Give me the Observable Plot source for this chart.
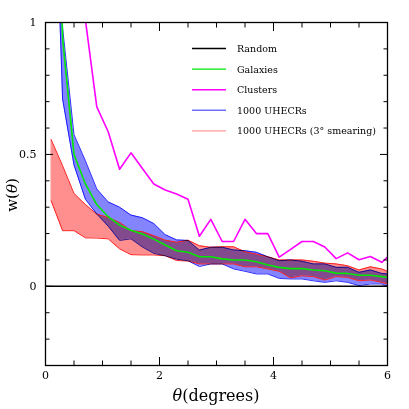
<!DOCTYPE html>
<html><head><meta charset="utf-8">
<script src="https://cdn.jsdelivr.net/npm/d3@7"></script>
<script src="https://cdn.jsdelivr.net/npm/@observablehq/plot@0.6"></script>
<style>html,body{margin:0;padding:0;background:#fff}svg{display:block}</style>
</head><body><div id="chart"></div>
<script>
// angular separation (degrees)
const theta = [0.1,0.3,0.5,0.7,0.9,1.1,1.3,1.5,1.7,1.9,2.1,2.3,2.5,2.7,2.9,3.1,3.3,3.5,3.7,3.9,4.1,4.3,4.5,4.7,4.9,5.1,5.3,5.5,5.7,5.9,6.0];
const clusters = [5.0,3.5,2.0,1.01,0.68,0.586,0.444,0.506,0.447,0.388,0.365,0.35,0.33,0.19,0.254,0.17,0.17,0.254,0.2,0.2,0.111,0.14,0.17,0.17,0.149,0.105,0.127,0.101,0.113,0.091,0.111];
const galaxies = [2.5,0.94,0.50,0.388,0.31,0.264,0.232,0.213,0.198,0.179,0.157,0.135,0.129,0.112,0.112,0.104,0.100,0.100,0.093,0.081,0.072,0.067,0.067,0.062,0.059,0.050,0.049,0.042,0.042,0.037,0.034];
const uhecrHigh = [3.0,0.98,0.575,0.476,0.369,0.32,0.30,0.27,0.26,0.238,0.196,0.176,0.174,0.137,0.148,0.148,0.138,0.135,0.129,0.112,0.097,0.100,0.095,0.085,0.085,0.072,0.072,0.053,0.062,0.049,0.047];
const uhecrLow = [2.0,0.71,0.46,0.33,0.274,0.228,0.174,0.18,0.149,0.125,0.116,0.103,0.097,0.075,0.085,0.085,0.066,0.057,0.047,0.047,0.03,0.028,0.028,0.021,0.015,0.021,0.015,0.003,0.009,0.009,0.0];
const smearHigh = [0.556,0.457,0.352,0.31,0.274,0.261,0.242,0.211,0.207,0.192,0.175,0.167,0.175,0.154,0.148,0.15,0.15,0.131,0.122,0.112,0.10,0.10,0.10,0.095,0.088,0.085,0.078,0.062,0.074,0.066,0.057];
const smearLow = [0.324,0.211,0.211,0.184,0.183,0.18,0.142,0.12,0.119,0.119,0.116,0.098,0.096,0.085,0.085,0.085,0.085,0.074,0.074,0.066,0.057,0.032,0.04,0.037,0.024,0.037,0.034,0.021,0.024,0.015,0.009];
const randomLevel = [0];

const legendLabels = ["Random","Galaxies","Clusters","1000 UHECRs","1000 UHECRs (3\u00b0 smearing)"];
const legendColors = ["#000000","#00e800","#ff00ff","#6f6fff","#ff9a9a"];

const xMajor = [0,2,4,6];
const xMinor = [0.5,1,1.5,2.5,3,3.5,4.5,5,5.5];
const yMajor = [0,0.5,1];
const yMinor = [-0.2,-0.1,0.1,0.2,0.3,0.4,0.6,0.7,0.8,0.9];
const yLabels = [0,0.5,1];

const rows = theta.map((t,i)=>({t, cl:clusters[i], ga:galaxies[i], uh:uhecrHigh[i], ul:uhecrLow[i], sh:smearHigh[i], sl:smearLow[i]}));

const FONT = "DejaVu Serif";
const noText = () => "";

const plot = Plot.plot({
  width: 409, height: 409,
  marginLeft: 45, marginRight: 22, marginTop: 22, marginBottom: 44,
  style: {fontFamily: FONT, fontSize: "11px", background: "#fff", color: "#000"},
  x: {domain: [0, 6]},
  y: {domain: [-0.3, 1]},
  marks: [
    Plot.areaY(rows, {x: "t", y1: "sl", y2: "sh", fill: "#ff8e8e", clip: true}),
    Plot.areaY(rows, {x: "t", y1: "ul", y2: "uh", fill: "#8484ff", clip: true}),
    Plot.ruleX(rows.slice(0,1), {x: "t", y1: "sl", y2: "sh", stroke: "#ff9a9a", strokeWidth: 1}),
    Plot.lineY(rows, {x: "t", y: "sh", stroke: "#ff2020", strokeWidth: 1, clip: true}),
    Plot.lineY(rows, {x: "t", y: "sl", stroke: "#ff2020", strokeWidth: 1, clip: true}),
    Plot.lineY(rows, {x: "t", y: "uh", stroke: "#3030ff", strokeWidth: 1, clip: true}),
    Plot.lineY(rows, {x: "t", y: "ul", stroke: "#3030ff", strokeWidth: 1, clip: true}),
    Plot.lineY(rows, {x: "t", y: "ga", stroke: "#00e800", strokeWidth: 1.6, clip: true}),
    Plot.lineY(rows, {x: "t", y: "cl", stroke: "#ff00ff", strokeWidth: 1.6, clip: true}),
    Plot.ruleY(randomLevel, {stroke: "#000", strokeWidth: 1.5}),
    Plot.frame({stroke: "#000", strokeWidth: 1.3}),
    // inward ticks
    Plot.axisX(xMajor, {anchor: "bottom", tickSize: -8, tickFormat: noText, label: null}),
    Plot.axisX(xMinor, {anchor: "bottom", tickSize: -4.5, tickFormat: noText, label: null}),
    Plot.axisX(xMajor, {anchor: "top", tickSize: -8, tickFormat: noText, label: null}),
    Plot.axisX(xMinor, {anchor: "top", tickSize: -4.5, tickFormat: noText, label: null}),
    Plot.axisY(yMajor, {anchor: "left", tickSize: -8, tickFormat: noText, label: null}),
    Plot.axisY(yMinor, {anchor: "left", tickSize: -4.5, tickFormat: noText, label: null}),
    Plot.axisY(yMajor, {anchor: "right", tickSize: -8, tickFormat: noText, label: null}),
    Plot.axisY(yMinor, {anchor: "right", tickSize: -4.5, tickFormat: noText, label: null}),
    // tick labels
    Plot.axisX(xMajor, {anchor: "bottom", tickSize: 0, tickPadding: 6, tickFormat: d => String(d), label: null}),
    Plot.axisY(yLabels, {anchor: "left", tickSize: 0, tickPadding: 9, tickFormat: d => String(d), label: null})
  ]
});

const svg = d3.select(plot);
// blend the UHECR band (second area, and 3rd/4th lines) with the smeared band
const areas = svg.selectAll('g[aria-label="area"]').nodes();
if (areas[1]) d3.select(areas[1]).style("mix-blend-mode", "multiply");
const lines = svg.selectAll('g[aria-label="line"]').nodes();
[2, 3].forEach(k => { if (lines[k]) d3.select(lines[k]).style("mix-blend-mode", "multiply"); });

// axis titles
const xt = svg.append("text").attr("x", 216).attr("y", 401).attr("text-anchor", "middle")
  .attr("font-family", FONT).attr("font-size", 16).attr("fill", "#000");
xt.append("tspan").attr("font-style", "italic").text("\u03b8");
xt.append("tspan").text("(degrees)");
const yt = svg.append("text").attr("transform", "translate(16.5,195) rotate(-90)").attr("text-anchor", "middle")
  .attr("font-family", FONT).attr("font-size", 15).attr("fill", "#000");
yt.append("tspan").text("w(");
yt.append("tspan").attr("font-style", "italic").text("\u03b8");
yt.append("tspan").text(")");

// legend
const lg = svg.append("g").attr("font-family", FONT).attr("font-size", 9.5).attr("text-anchor", "start");
legendLabels.forEach((lab, i) => {
  const y = 48.5 + i * 20.6;
  lg.append("line").attr("x1", 192).attr("x2", 226).attr("y1", y).attr("y2", y)
    .attr("stroke", legendColors[i]).attr("stroke-width", 1.4);
  lg.append("text").attr("x", 237).attr("y", y + 3.5).attr("fill", "#000").attr("text-anchor", "start").text(lab);
});

document.getElementById("chart").appendChild(plot);
</script>
</body></html>
